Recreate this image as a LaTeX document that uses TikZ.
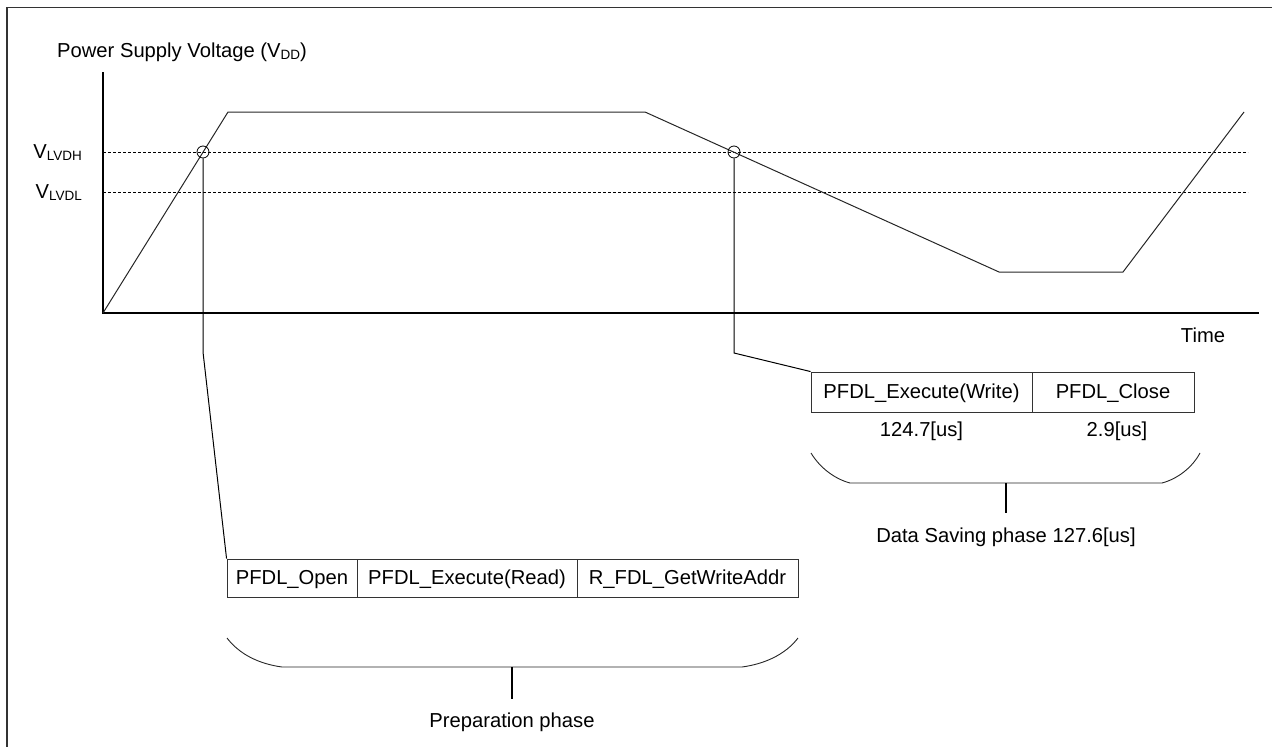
\documentclass[tikz,border=0pt]{standalone}
\usepackage{fontspec}
\setmainfont{Liberation Sans}
\newcommand\vsub[1]{{\fontsize{13.5}{13.5}\selectfont\raisebox{-2.5pt}{#1}}}
\begin{document}
\begin{tikzpicture}[x=1pt,y=-1pt,
  every node/.style={font=\fontsize{20.2}{24}\selectfont, inner sep=0pt},
  frameline/.style={line width=1.5pt, black!80},
  axisline/.style={line width=2pt, black},
  curveline/.style={line width=1pt, black!85},
  thrline/.style={line width=0.8pt, black, dash pattern=on 3pt off 2pt},
  leader/.style={line width=1pt, black},
  marker/.style={circle, draw, line width=0.8pt, minimum size=12pt, inner sep=0pt},
  fnbox/.style={draw, line width=0.9pt, black!80, text=black, text height=14.5pt, text depth=1pt},
  bracel/.style={line width=0.9pt, black!85},
  stem/.style={line width=2pt, black},
  lbl/.style={anchor=base}
]
\useasboundingbox (0,0) rectangle (1272,747);
% frame (top and left visible)
\draw[frameline] (7,747) -- (7,7.5) -- (1272,7.5);

% axes
\coordinate (ytop) at (103,72);
\coordinate (orig) at (103,313);
\coordinate (xend) at (1259,313);
\draw[axisline] (ytop) -- (orig) -- (xend);

% titles
\node[anchor=base west] (ttl) at (57,57) {Power Supply Voltage (V\vsub{DD})};
\node[lbl] (time) at (1203,342) {Time};

% threshold lines
\coordinate (h1) at (103,152); \coordinate (h2) at (1248,152);
\coordinate (l1) at (103,192); \coordinate (l2) at (1248,192);
\draw[thrline] (h1) -- (h2);
\draw[thrline] (l1) -- (l2);
\node[anchor=base east] (vh) at (82,158) {V\vsub{LVDH}};
\node[anchor=base east] (vl) at (82,198) {V\vsub{LVDL}};

% supply curve
\coordinate (p1) at (228,112);
\coordinate (p2) at (645,112);
\coordinate (p3) at (999,272);
\coordinate (p4) at (1123,272);
\coordinate (p5) at (1244,112);
\draw[curveline] (orig) -- (p1) -- (p2) -- (p3) -- (p4) -- (p5);

% markers
\node[marker] (c1) at (203,152) {};
\node[marker] (c2) at (734,152) {};

% preparation boxes
\node[fnbox, minimum width=130pt, minimum height=38pt] (po) at (292,578) {PFDL\_Open};
\node[fnbox, minimum width=220pt, minimum height=38pt] (pe) at (467,578) {PFDL\_Execute(Read)};
\node[fnbox, minimum width=221pt, minimum height=38pt] (pg) at (687.5,578) {R\_FDL\_GetWriteAddr};

% data saving boxes
\node[fnbox, minimum width=221pt, minimum height=40pt] (dw) at (921.5,392) {PFDL\_Execute(Write)};
\node[fnbox, minimum width=162pt, minimum height=40pt] (dc) at (1113,392) {PFDL\_Close};
\node[lbl] (tw) at (921.5,436) {124.7[us]};
\node[lbl] (tc) at (1117,436) {2.9[us]};

% leaders
\coordinate (k1) at (203,352);
\coordinate (k2) at (734,353);
\draw[leader] (c1.south) -- (k1) -- (po.north west);
\draw[leader] (c2.south) -- (k2) -- (dw.north west);

% preparation brace
\coordinate (pb1) at (227,638);
\coordinate (pb2) at (282,667);
\coordinate (pb3) at (742,667);
\coordinate (pb4) at (798,638);
\coordinate (ps1) at (512,667);
\coordinate (ps2) at (512,699);
\draw[bracel] (pb1) .. controls (240,655) and (260,664) .. (pb2) -- (pb3) .. controls (764,664) and (785,655) .. (pb4);
\draw[stem] (ps1) -- (ps2);
\node[lbl] (pl) at (512,727) {Preparation phase};

% data saving brace
\coordinate (db1) at (811,453);
\coordinate (db2) at (850,483);
\coordinate (db3) at (1162,483);
\coordinate (db4) at (1200,453);
\coordinate (ds1) at (1006,483);
\coordinate (ds2) at (1006,513);
\draw[bracel] (db1) .. controls (820,468) and (835,479) .. (db2) -- (db3) .. controls (1177,479) and (1192,468) .. (db4);
\draw[stem] (ds1) -- (ds2);
\node[lbl] (dl) at (1006,542) {Data Saving phase 127.6[us]};
\end{tikzpicture}
\end{document}
